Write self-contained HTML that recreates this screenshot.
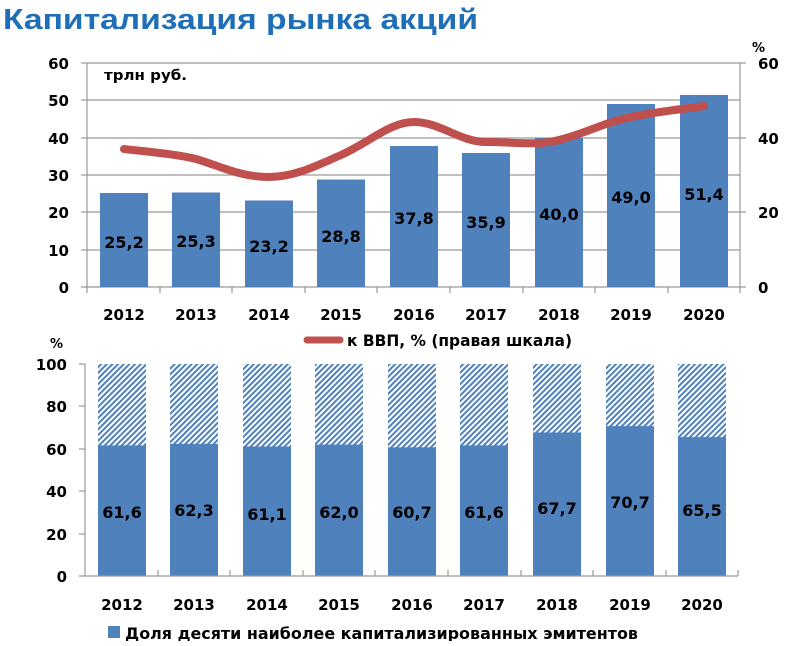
<!DOCTYPE html>
<html><head><meta charset="utf-8"><style>
body{margin:0;background:#fff;width:797px;height:641px;overflow:hidden}
svg text{font-family:"DejaVu Sans","Liberation Sans",sans-serif;font-weight:bold}
</style></head><body>
<svg width="797" height="641" xmlns="http://www.w3.org/2000/svg">
<defs>
<pattern id="h" width="4" height="4" patternUnits="userSpaceOnUse" patternTransform="rotate(45)">
<rect width="4" height="4" fill="#fff"/><rect width="2" height="4" fill="#4f81bd"/>
</pattern>
</defs>
<text x="3" y="29" font-size="29" fill="#1f6fb8" style="font-family:'Liberation Sans',sans-serif" textLength="475" lengthAdjust="spacingAndGlyphs">Капитализация рынка акций</text>
<g stroke="#999" stroke-width="1.2">
<line x1="87" y1="63" x2="740" y2="63"/><line x1="87" y1="100" x2="740" y2="100"/>
<line x1="87" y1="138" x2="740" y2="138"/><line x1="87" y1="175" x2="740" y2="175"/>
<line x1="87" y1="212" x2="740" y2="212"/><line x1="87" y1="250" x2="740" y2="250"/>
<line x1="81" y1="287" x2="746" y2="287"/>
<line x1="87" y1="63" x2="87" y2="293"/><line x1="740" y1="63" x2="740" y2="293"/>
<line x1="81" y1="63" x2="87" y2="63"/><line x1="81" y1="100" x2="87" y2="100"/><line x1="81" y1="138" x2="87" y2="138"/><line x1="81" y1="175" x2="87" y2="175"/><line x1="81" y1="212" x2="87" y2="212"/><line x1="81" y1="250" x2="87" y2="250"/>
<line x1="740" y1="63" x2="746" y2="63"/><line x1="740" y1="138" x2="746" y2="138"/><line x1="740" y1="212" x2="746" y2="212"/>
<line x1="160" y1="287" x2="160" y2="293"/><line x1="232" y1="287" x2="232" y2="293"/><line x1="305" y1="287" x2="305" y2="293"/><line x1="377" y1="287" x2="377" y2="293"/><line x1="450" y1="287" x2="450" y2="293"/><line x1="523" y1="287" x2="523" y2="293"/><line x1="595" y1="287" x2="595" y2="293"/><line x1="668" y1="287" x2="668" y2="293"/>
</g>
<g fill="#4f81bd">
<rect x="100" y="193" width="48" height="94"/><rect x="172" y="192.5" width="48" height="94.5"/>
<rect x="245" y="200.5" width="48" height="86.5"/><rect x="317" y="179.5" width="48" height="107.5"/>
<rect x="390" y="146" width="48" height="141"/><rect x="462" y="153" width="48" height="134"/>
<rect x="535" y="138" width="48" height="149"/><rect x="607" y="104" width="48" height="183"/>
<rect x="680" y="95" width="48" height="192"/>
</g>
<path d="M124,149 C150,152 175,154 196,159 C220,166 240,177 269,177 C295,177 318,165 341,155 C370,142 390,122 414,122 C440,122 460,142 486,142 C515,142 535,146 559,140 C590,132 605,122 631,117 C660,111 685,109 704,106" fill="none" stroke="#c0504d" stroke-width="8" stroke-linecap="round"/>
<g font-size="16" text-anchor="middle" fill="#000">
<text x="124" y="248">25,2</text><text x="196" y="247">25,3</text><text x="269" y="252">23,2</text>
<text x="341" y="242">28,8</text><text x="414" y="224">37,8</text><text x="486" y="228">35,9</text>
<text x="559" y="220">40,0</text><text x="631" y="203">49,0</text><text x="704" y="200">51,4</text>
</g>
<g font-size="15" text-anchor="end"><text x="69" y="69">60</text><text x="69" y="106">50</text><text x="69" y="144">40</text><text x="69" y="181">30</text><text x="69" y="218">20</text><text x="69" y="256">10</text><text x="69" y="293">0</text></g>
<g font-size="15" text-anchor="start"><text x="758" y="69">60</text><text x="758" y="144">40</text><text x="758" y="218">20</text><text x="758" y="293">0</text></g>
<text x="752" y="52" font-size="13">%</text>
<text x="104" y="80" font-size="14" textLength="83" lengthAdjust="spacingAndGlyphs">трлн руб.</text>
<g font-size="15" text-anchor="middle"><text x="124" y="320">2012</text><text x="196" y="320">2013</text><text x="269" y="320">2014</text><text x="341" y="320">2015</text><text x="414" y="320">2016</text><text x="486" y="320">2017</text><text x="559" y="320">2018</text><text x="631" y="320">2019</text><text x="704" y="320">2020</text></g>
<line x1="307" y1="340" x2="340" y2="340" stroke="#c0504d" stroke-width="7" stroke-linecap="round"/>
<text x="347" y="346" font-size="16" textLength="225" lengthAdjust="spacingAndGlyphs">к ВВП, % (правая шкала)</text>
<text x="50" y="348" font-size="13">%</text>
<g fill="#4f81bd">
<rect x="98" y="364" width="48" height="212" fill="url(#h)"/><rect x="170" y="364" width="48" height="212" fill="url(#h)"/>
<rect x="243" y="364" width="48" height="212" fill="url(#h)"/><rect x="315" y="364" width="48" height="212" fill="url(#h)"/>
<rect x="388" y="364" width="48" height="212" fill="url(#h)"/><rect x="460" y="364" width="48" height="212" fill="url(#h)"/>
<rect x="533" y="364" width="48" height="212" fill="url(#h)"/><rect x="606" y="364" width="48" height="212" fill="url(#h)"/>
<rect x="678" y="364" width="48" height="212" fill="url(#h)"/>
<rect x="98" y="445.4" width="48" height="130.6"/><rect x="170" y="443.9" width="48" height="132.1"/>
<rect x="243" y="446.5" width="48" height="129.5"/><rect x="315" y="444.6" width="48" height="131.4"/>
<rect x="388" y="447.3" width="48" height="128.7"/><rect x="460" y="445.4" width="48" height="130.6"/>
<rect x="533" y="432.5" width="48" height="143.5"/><rect x="606" y="426.1" width="48" height="149.9"/>
<rect x="678" y="437.1" width="48" height="138.9"/>
</g>
<g stroke="#999" stroke-width="1.2">
<line x1="85" y1="364" x2="85" y2="576"/><line x1="79" y1="576" x2="738" y2="576"/>
<line x1="79" y1="364" x2="85" y2="364"/><line x1="79" y1="406" x2="85" y2="406"/><line x1="79" y1="449" x2="85" y2="449"/><line x1="79" y1="491" x2="85" y2="491"/><line x1="79" y1="534" x2="85" y2="534"/>
<line x1="158" y1="570" x2="158" y2="576"/><line x1="230" y1="570" x2="230" y2="576"/><line x1="303" y1="570" x2="303" y2="576"/><line x1="375" y1="570" x2="375" y2="576"/><line x1="448" y1="570" x2="448" y2="576"/><line x1="521" y1="570" x2="521" y2="576"/><line x1="593" y1="570" x2="593" y2="576"/><line x1="666" y1="570" x2="666" y2="576"/><line x1="738" y1="570" x2="738" y2="576"/>
</g>
<g font-size="16" text-anchor="middle">
<text x="122" y="518">61,6</text><text x="194" y="516">62,3</text><text x="267" y="520">61,1</text>
<text x="339" y="518">62,0</text><text x="412" y="518">60,7</text><text x="484" y="518">61,6</text>
<text x="557" y="514">67,7</text><text x="630" y="508">70,7</text><text x="702" y="516">65,5</text>
</g>
<g font-size="15" text-anchor="end"><text x="67" y="370">100</text><text x="67" y="412">80</text><text x="67" y="455">60</text><text x="67" y="497">40</text><text x="67" y="540">20</text><text x="67" y="582">0</text></g>
<g font-size="15" text-anchor="middle"><text x="122" y="610">2012</text><text x="194" y="610">2013</text><text x="267" y="610">2014</text><text x="339" y="610">2015</text><text x="412" y="610">2016</text><text x="484" y="610">2017</text><text x="557" y="610">2018</text><text x="630" y="610">2019</text><text x="702" y="610">2020</text></g>
<rect x="108" y="626" width="12" height="12" fill="#4f81bd"/>
<text x="125" y="639" font-size="16" textLength="513" lengthAdjust="spacingAndGlyphs">Доля десяти наиболее капитализированных эмитентов</text>
</svg>
</body></html>
